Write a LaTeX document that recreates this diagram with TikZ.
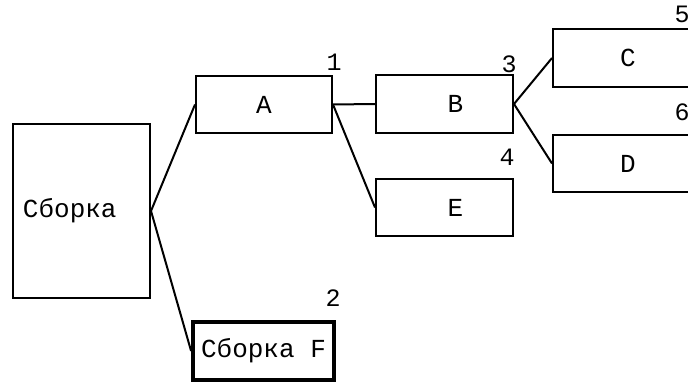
\documentclass[tikz,border=0pt]{standalone}
\usepackage{fontspec}
\setmonofont{Liberation Mono}
\begin{document}
\begin{tikzpicture}[x=1pt,y=-1pt,
  box/.style={draw=black,line width=2pt,rectangle,inner sep=0pt,font=\ttfamily\fontsize{26}{30}\selectfont},
  num/.style={inner sep=0pt,font=\ttfamily\fontsize{25}{28}\selectfont},
  conn/.style={draw=black,line width=2pt}]
\useasboundingbox (0,0) rectangle (688,385);
\clip (0,0) rectangle (688,385);
\node[box,minimum width=137,minimum height=174,text width=117,align=left] (root) at (81.5,211) {Сборка};
\node[box,minimum width=136,minimum height=57] (A) at (264,104.5) {A};
\node[box,minimum width=137,minimum height=58] (B) at (444.5,104) {\hspace*{22pt}B};
\node[box,minimum width=137,minimum height=57] (E) at (444.5,207.5) {\hspace*{22pt}E};
\node[box,minimum width=150,minimum height=58] (C) at (628,58) {C};
\node[box,minimum width=150,minimum height=57] (D) at (628,163.5) {D};
\node[box,line width=3.8pt,minimum width=141,minimum height=58] (F) at (263.5,351) {Сборка F};
\node[num] (n1) at (334,62) {1};
\node[num] (n2) at (333,298) {2};
\node[num] (n3) at (509,64) {3};
\node[num] (n4) at (507,157) {4};
\node[num] (n5) at (682,14) {5};
\node[num] (n6) at (682,112) {6};
\draw[conn] (root.east) -- (A.west);
\draw[conn] (root.east) -- (F.west);
\draw[conn] (A.east) -- (B.west);
\draw[conn] (A.east) -- (E.west);
\draw[conn] (B.east) -- (C.west);
\draw[conn] (B.east) -- (D.west);
\end{tikzpicture}
\end{document}
